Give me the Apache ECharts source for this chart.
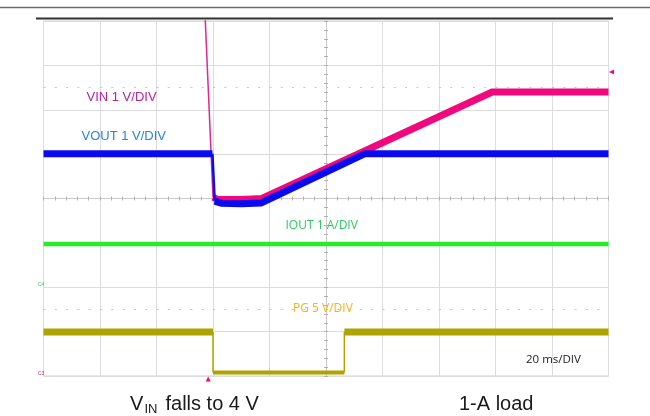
<!DOCTYPE html>
<html>
<head>
<meta charset="utf-8">
<script src="https://cdn.jsdelivr.net/npm/echarts@6/dist/echarts.min.js"></script>
<style>
html, body { margin: 0; padding: 0; background: #fff; }
#c { width: 650px; height: 416px; }
</style>
</head>
<body>
<div id="c"></div>
<script>
// Scope capture: time in ms relative to screen centre (20 ms/div),
// vertical position in divisions relative to screen centre.
const timeRange = [-100, 100];
const timeStep = 20;
const divRange = [-4, 4];
const divStep = 1;

// VIN (1 V/div): falling edge, then dip and linear recovery
const vinFall = [[-43.0, 4.4], [-40.0, 0.03]];
const vinTrace = [[-40.0, 0.03], [-38.5, -0.02], [-30.0, -0.02], [-22.7, 0.0], [58.8, 2.40], [100, 2.40]];

// VOUT (1 V/div): regulated, drops out with VIN, recovers
const voutHigh = [[-100, 1.01], [-40.2, 1.01]];
const voutFall = [[-40.2, 1.01], [-39.4, -0.05]];
const voutTrace = [[-39.4, -0.06], [-37.0, -0.11], [-30.0, -0.12], [-23.0, -0.10], [13.8, 1.01], [100, 1.01]];

// IOUT (1 A/div): constant 1-A load
const ioutTrace = [[-100, -1.025], [100, -1.025]];

// PG (5 V/div): power-good drops while VOUT is out of regulation
const pgHighBefore = [[-100, -3.01], [-40.0, -3.01]];
const pgFall = [[-40.0, -3.01], [-40.0, -3.92]];
const pgLow = [[-40.0, -3.92], [6.5, -3.92]];
const pgRise = [[6.5, -3.92], [6.5, -3.01]];
const pgHighAfter = [[6.5, -3.01], [100, -3.01]];

// Trigger position, VIN level marker and cursor lines
const triggerTime = -41.7;
const vinMarkerLevel = 2.85;
const cursorLevels = [2.5, -2.5];

const PINK = '#f0087c';
const BLUE = '#0a0af0';
const GREEN = '#28ec28';
const OLIVE = '#ada400';

function trace(name, data, color, width, z, extra) {
  return Object.assign({
    name: name,
    type: 'line',
    data: data,
    symbol: 'none',
    showSymbol: false,
    clip: true,
    silent: true,
    z: z,
    lineStyle: { color: color, width: width, cap: 'butt', join: 'miter' },
    animation: false
  }, extra || {});
}

const chart = echarts.init(document.getElementById('c'), null, { renderer: 'canvas' });

const gridLine = { show: true, lineStyle: { color: '#dcdcdc', width: 1 } };

// on-screen annotations are drawn above the grid
function label(text, x, y, fill, font) {
  return {
    type: 'text', x: x, y: y, z: 100, silent: true,
    style: { text: text, fill: fill, font: font, textVerticalAlign: 'middle' }
  };
}

chart.setOption({
  backgroundColor: '#ffffff',
  animation: false,
  grid: {
    left: 43.5, right: 41.5, top: 21, bottom: 40,
    show: true, borderColor: '#cfcfcf', borderWidth: 1
  },
  xAxis: [
    {
      type: 'value', min: timeRange[0], max: timeRange[1], interval: timeStep,
      axisLabel: { show: false },
      axisLine: { show: true, onZero: true, lineStyle: { color: '#c8c8c8' } },
      axisTick: { show: true, length: 2, lineStyle: { color: '#b0b0b0' } },
      minorTick: { show: true, splitNumber: 5, length: 2, lineStyle: { color: '#b0b0b0' } },
      splitLine: gridLine
    },
    {
      type: 'value', position: 'top', min: timeRange[0], max: timeRange[1], interval: timeStep,
      axisLabel: { show: false },
      axisLine: { show: false, onZero: true, onZeroAxisIndex: 0 },
      axisTick: { show: true, length: 2, lineStyle: { color: '#b0b0b0' } },
      minorTick: { show: true, splitNumber: 5, length: 2, lineStyle: { color: '#b0b0b0' } },
      splitLine: { show: false }
    }
  ],
  yAxis: [
    {
      type: 'value', min: divRange[0], max: divRange[1], interval: divStep,
      axisLabel: { show: false },
      axisLine: { show: true, onZero: true, lineStyle: { color: '#c8c8c8' } },
      axisTick: { show: true, length: 2, lineStyle: { color: '#b0b0b0' } },
      minorTick: { show: true, splitNumber: 5, length: 2, lineStyle: { color: '#b0b0b0' } },
      splitLine: gridLine
    },
    {
      type: 'value', position: 'right', min: divRange[0], max: divRange[1], interval: divStep,
      axisLabel: { show: false },
      axisLine: { show: false, onZero: true, onZeroAxisIndex: 0 },
      axisTick: { show: true, length: 2, lineStyle: { color: '#b0b0b0' } },
      minorTick: { show: true, splitNumber: 5, length: 2, lineStyle: { color: '#b0b0b0' } },
      splitLine: { show: false }
    }
  ],
  series: [
    trace('PG', pgHighBefore, OLIVE, 7, 2, {
      markLine: {
        silent: true, symbol: 'none', label: { show: false },
        lineStyle: { color: '#c4c4c4', width: 1, type: [2, 9.3] },
        data: cursorLevels.map(v => ({ yAxis: v }))
      }
    }),
    trace('PG', pgFall, OLIVE, 1.5, 2),
    trace('PG', pgLow, OLIVE, 4, 2),
    trace('PG', pgRise, OLIVE, 1.5, 2),
    trace('PG', pgHighAfter, OLIVE, 7, 2),
    trace('IOUT', ioutTrace, GREEN, 4.5, 3),
    trace('VIN', vinFall, '#e0288e', 1.5, 4),
    trace('VIN', vinTrace, PINK, 7, 4, {
      markPoint: {
        silent: true, label: { show: false },
        itemStyle: { color: PINK },
        data: [
          { coord: [timeRange[1], vinMarkerLevel], symbol: 'triangle', symbolSize: 5, symbolRotate: 90, symbolOffset: [3, 0] },
          { coord: [triggerTime, divRange[0]], symbol: 'triangle', symbolSize: 5, symbolOffset: [0, 3] }
        ]
      }
    }),
    trace('VOUT', voutHigh, BLUE, 7, 5),
    trace('VOUT', voutFall, BLUE, 2.5, 5),
    trace('VOUT', voutTrace, BLUE, 7, 5)
  ],
  graphic: [
    { type: 'line', z: 100, shape: { x1: 0, y1: 7.5, x2: 650, y2: 7.5 }, style: { stroke: '#6a6a6a', lineWidth: 1.5 }, silent: true },
    { type: 'line', z: 100, shape: { x1: 36, y1: 18.5, x2: 613, y2: 18.5 }, style: { stroke: '#333333', lineWidth: 2 }, silent: true },
    label('VIN 1 V/DIV', 86.5, 97, '#b0249e', '13px "Liberation Sans"'),
    label('VOUT 1 V/DIV', 81.5, 136.5, '#2a85d2', '13px "Liberation Sans"'),
    label('IOUT 1 A/DIV', 285.5, 226, '#30c860', '12px "Open Sans"'),
    label('PG 5 V/DIV', 293, 309, '#f3b41c', '12px "Open Sans"'),
    label('20 ms/DIV', 526, 359.5, '#222222', '11.5px "Open Sans"'),
    label('C4', 38, 285, '#3ccc3c', '5px "Liberation Sans"'),
    label('C3', 38, 374, '#c030a0', '5px "Liberation Sans"'),
    label('V', 130, 404, '#1a1a1a', '20px "Liberation Sans"'),
    label('IN', 144.5, 409.5, '#1a1a1a', '13px "Liberation Sans"'),
    label('falls to 4 V', 165.5, 404, '#1a1a1a', '20px "Liberation Sans"'),
    label('1-A load', 459, 404, '#1a1a1a', '20px "Liberation Sans"')
  ]
});
</script>
</body>
</html>
